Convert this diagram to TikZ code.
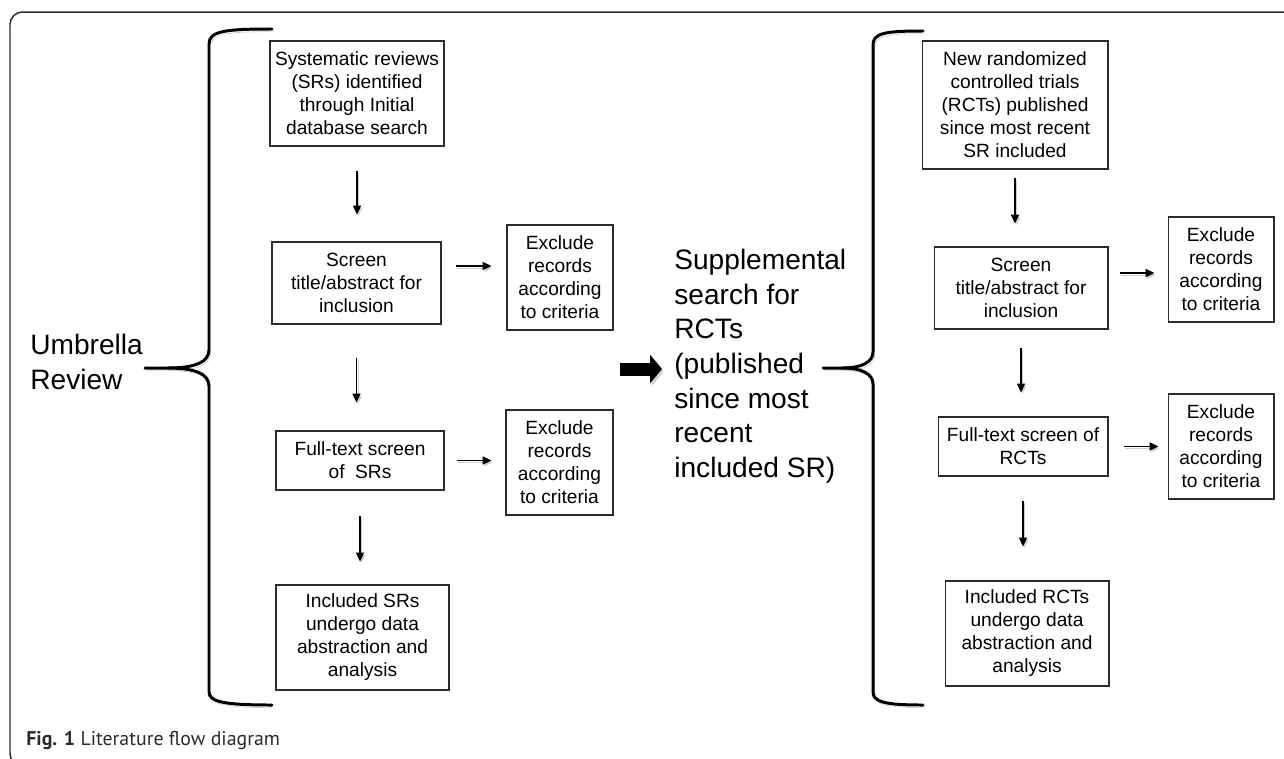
\documentclass[tikz,border=0pt]{standalone}
\usepackage{fontspec}
\setmainfont{Liberation Sans}
\newfontfamily\pie{PT Sans}
\usetikzlibrary{arrows.meta,positioning,calc}
\definecolor{borde}{HTML}{2B2B2B}
\definecolor{sombra}{HTML}{CFCFCF}

\begin{document}
\begin{tikzpicture}[x=0.02cm,y=-0.02cm,
  caja/.style={draw=borde,line width=0.6pt,align=center,inner sep=2pt,
               font=\fontsize{10.9}{13.1}\selectfont},
  flecha/.style={-{Triangle[length=5pt,width=4.6pt]},line width=0.7pt,
               preaction={draw=sombra,transform canvas={shift={(0.8pt,-1.2pt)}}}},
  gruesa/.style={-{Triangle[length=0.24cm,width=0.56cm]},line width=0.26cm,
               preaction={draw=sombra,transform canvas={shift={(1pt,-1.5pt)}}}},
  llave/.style={line width=1.7pt,line cap=round,
               preaction={draw=sombra,transform canvas={shift={(1pt,-1.5pt)}}}},
  grande/.style={align=left,inner sep=0pt,font=\fontsize{16}{19.7}\selectfont}]
  \useasboundingbox (0,0) rectangle (1284,758);
  \draw[borde,line width=0.85pt,rounded corners=0.25cm] (1290,12) -- (10,12) -- (10,766) -- (40,766);
  \node[caja,minimum width=3.48cm,minimum height=2.1cm] (s1) at (357,93.5)
     {Systematic reviews\\(SRs) identified\\through Initial\\database search};
  \node[caja,minimum width=3.38cm,minimum height=1.64cm] (s2) at (356.5,283)
     {Screen\\title/abstract for\\inclusion};
  \node[caja,minimum width=3.36cm,minimum height=1.18cm] (s3) at (360,460.5)
     {Full-text screen\\of\ \ SRs};
  \node[caja,minimum width=3.46cm,minimum height=2.1cm] (s4) at (362.5,637.5)
     {Included SRs\\undergo data\\abstraction and\\analysis};
  \node[caja,minimum width=2.12cm,minimum height=2.1cm] (e1) at (560,277.5)
     {Exclude\\records\\according\\to criteria};
  \node[caja,minimum width=2.14cm,minimum height=2.1cm] (e2) at (559.5,462.5)
     {Exclude\\records\\according\\to criteria};
  \node[caja,minimum width=3.72cm,minimum height=2.56cm] (r1) at (1015,105)
     {New randomized\\controlled trials\\(RCTs) published\\since most recent\\SR included};
  \node[caja,minimum width=3.48cm,minimum height=1.64cm] (r2) at (1021,288)
     {Screen\\title/abstract for\\inclusion};
  \node[caja,minimum width=3.4cm,minimum height=1.18cm] (r3) at (1023,446.5)
     {Full-text screen of\\RCTs};
  \node[caja,minimum width=3.28cm,minimum height=2.1cm] (r4) at (1027,633.5)
     {Included RCTs\\undergo data\\abstraction and\\analysis};
  \node[caja,minimum width=2.12cm,minimum height=2.1cm] (x1) at (1221,269.5)
     {Exclude\\records\\according\\to criteria};
  \node[caja,minimum width=2.12cm,minimum height=2.1cm] (x2) at (1221,446.5)
     {Exclude\\records\\according\\to criteria};
  \node[grande,anchor=north west] (paraguas) at (30,334) {Umbrella\\Review};
  \node[grande,anchor=north west] (sup) at (674,249)
     {Supplemental\\search for\\RCTs\\(published\\since most\\recent\\included SR)};
  \node[anchor=base west,inner sep=0pt,text=borde,font=\pie\fontsize{11.3}{13}\selectfont] (leyenda)
     at (26,745) {\textbf{Fig. 1} Literature flow diagram};
  \draw[flecha,shorten <=0.48cm,shorten >=0.54cm] (s1.south) -- (s1.south |- s2.north);
  \draw[flecha,shorten <=0.66cm,shorten >=0.56cm] (s2.south) -- (s2.south |- s3.north);
  \draw[flecha,shorten <=0.5cm,shorten >=0.46cm] (s3.south) -- (s3.south |- s4.north);
  \draw[flecha,shorten <=0.16cm,shorten >=0.46cm] (r1.south) -- (r1.south |- r2.north);
  \draw[flecha,shorten <=0.36cm,shorten >=0.48cm] (r2.south) -- (r2.south |- r3.north);
  \draw[flecha,shorten <=0.48cm,shorten >=0.68cm] (r3.south) -- (r3.south |- r4.north);
  \draw[flecha,shorten <=0.28cm,shorten >=0.3cm] ([yshift=0.34cm]s2.east) -- ([yshift=0.34cm]s2.east -| e1.west);
  \draw[flecha,shorten <=0.24cm,shorten >=0.28cm] (s3.east) -- (s3.east -| e2.west);
  \draw[flecha,shorten <=0.22cm,shorten >=0.26cm] ([yshift=0.3cm]r2.east) -- ([yshift=0.3cm]r2.east -| x1.west);
  \draw[flecha,shorten <=0.3cm,shorten >=0.18cm] (r3.east) -- (r3.east -| x2.west);
  \coordinate (inicio) at (620,369);
  \draw[gruesa,shorten >=0.24cm] (inicio) -- (inicio -| sup.west);
  \draw[llave] (272,29) .. controls (225,29) and (209,31) .. (209,44) -- (209,350)
     .. controls (209,362) and (195,368) .. (168,368) -- (145,368);
  \draw[llave] (168,368) .. controls (195,368) and (209,374) .. (209,386) -- (209,692)
     .. controls (209,702) and (225,705) .. (272,705);
  \draw[llave] (923,31) .. controls (885,31) and (873,33) .. (873,45) -- (873,352)
     .. controls (873,362) and (862,368) .. (842,368) -- (823,368);
  \draw[llave] (842,368) .. controls (862,368) and (873,374) .. (873,384) -- (873,692)
     .. controls (873,702) and (885,705) .. (923,705);
\end{tikzpicture}
\end{document}
